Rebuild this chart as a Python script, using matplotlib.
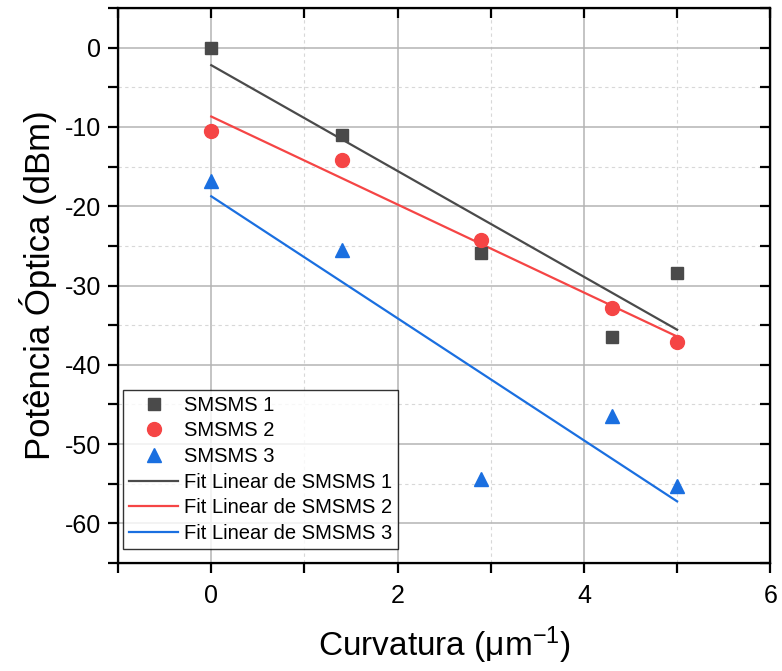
import numpy as np
import matplotlib.pyplot as plt
from matplotlib.ticker import MultipleLocator

plt.rcParams['font.family'] = ['Liberation Sans', 'DejaVu Sans']
plt.rcParams['mathtext.fontset'] = 'custom'
plt.rcParams['mathtext.rm'] = 'Liberation Sans'
plt.rcParams['mathtext.it'] = 'Liberation Sans:italic'
plt.rcParams['axes.unicode_minus'] = False

curv = [0, 1.4, 2.9, 4.3, 5.0]
smsms1 = [0, -11.0, -25.9, -36.5, -28.4]
smsms2 = [-10.5, -14.2, -24.2, -32.9, -37.1]
smsms3 = [-16.8, -25.5, -54.4, -46.4, -55.3]

names = ['SMSMS 1', 'SMSMS 2', 'SMSMS 3']
colors = ['#4a4a4a', '#f54545', '#1a6fe0']
markers = ['s', 'o', '^']
msizes = [9, 10, 10.5]

fig = plt.figure(figsize=(7.82, 6.71), dpi=100)
ax = fig.add_axes([0.151, 0.161, 0.834, 0.827])

x = np.array(curv)
series = [smsms1, smsms2, smsms3]
for y, name, c, m, ms in zip(series, names, colors, markers, msizes):
    ax.plot(x, y, ls='none', marker=m, color=c, ms=ms, label=name, zorder=4)
for y, name, c in zip(series, names, colors):
    k, b = np.polyfit(x, y, 1)
    ax.plot(x[[0, -1]], k * x[[0, -1]] + b, color=c, lw=1.6,
            label='Fit Linear de ' + name, zorder=3)

ax.set_xlim(-1, 6)
ax.set_ylim(-65, 5)
ax.xaxis.set_major_locator(MultipleLocator(2))
ax.xaxis.set_minor_locator(MultipleLocator(1))
ax.yaxis.set_major_locator(MultipleLocator(10))
ax.yaxis.set_minor_locator(MultipleLocator(5))
ax.grid(which='major', color='#b4b4b4', lw=1.1, ls='-')
ax.grid(which='minor', color='#d8d8d8', lw=0.8, ls=(0, (3, 3)))
ax.set_axisbelow(True)

for s in ax.spines.values():
    s.set_linewidth(1.6)
ax.tick_params(which='both', direction='out', length=7, width=1.6,
               labelsize=18)
ax.tick_params(axis='x', pad=8)
ax.tick_params(axis='y', pad=5)

# mirrored axes with inward ticks (top and right)
axt = ax.twiny()
axt.set_xlim(ax.get_xlim())
axt.xaxis.set_major_locator(MultipleLocator(2))
axt.xaxis.set_minor_locator(MultipleLocator(1))
axt.tick_params(which='both', direction='in', length=7, width=1.6,
                labeltop=False)
axr = ax.twinx()
axr.set_ylim(ax.get_ylim())
axr.yaxis.set_major_locator(MultipleLocator(10))
axr.yaxis.set_minor_locator(MultipleLocator(5))
axr.tick_params(which='both', direction='in', length=7, width=1.6,
                labelright=False)

ax.set_xlabel('Curvatura (μm$^{-1}$)', fontsize=24, labelpad=12)
ax.set_ylabel('Potência Óptica (dBm)', fontsize=25, labelpad=6)

leg = ax.legend(loc='lower left', bbox_to_anchor=(0.008, 0.025), fontsize=14.5,
                frameon=True, fancybox=False, edgecolor='black',
                handlelength=2.4, handletextpad=0.3, labelspacing=0.33,
                borderpad=0.3, borderaxespad=0)
leg.get_frame().set_linewidth(1.0)
leg.set_zorder(10)

fig.savefig('out.png', dpi=100)
